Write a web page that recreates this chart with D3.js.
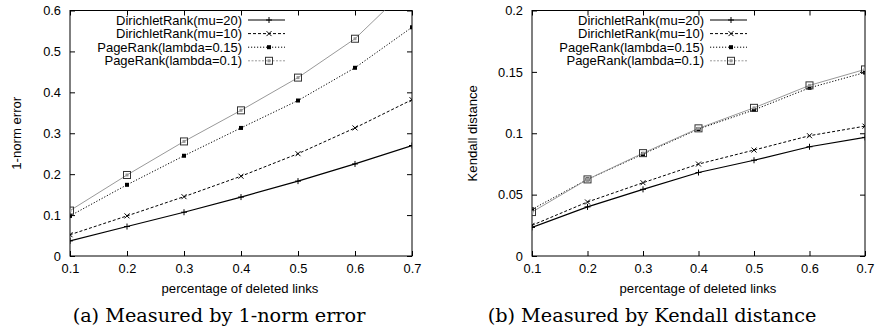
<!DOCTYPE html>
<html><head><meta charset="utf-8">
<script src="https://cdn.jsdelivr.net/npm/d3@7"></script>
<style>body{margin:0;background:#fff}svg{display:block}</style>
</head><body>
<svg id="c" width="875" height="330"></svg>
<script>
const xValues = [0.1, 0.2, 0.3, 0.4, 0.5, 0.6, 0.7];
const seriesNames = ["DirichletRank(mu=20)", "DirichletRank(mu=10)", "PageRank(lambda=0.15)", "PageRank(lambda=0.1)"];
// Panel (a) 1-norm error
const normMu20 = [0.037, 0.072, 0.107, 0.144, 0.183, 0.225, 0.270];
const normMu10 = [0.052, 0.098, 0.145, 0.195, 0.250, 0.313, 0.382];
const normPR015 = [0.098, 0.174, 0.245, 0.313, 0.380, 0.460, 0.559];
const normPR01 = [0.111, 0.198, 0.280, 0.356, 0.436, 0.531, 0.665];
// Panel (b) Kendall distance
const kenMu20 = [0.0233, 0.040, 0.0543, 0.068, 0.078, 0.089, 0.0966];
const kenMu10 = [0.025, 0.044, 0.0597, 0.0749, 0.0863, 0.098, 0.1058];
const kenPR015 = [0.038, 0.0624, 0.083, 0.1034, 0.119, 0.137, 0.1495];
const kenPR01 = [0.0358, 0.0624, 0.0838, 0.104, 0.1207, 0.139, 0.152];
const xTicks = [0.1, 0.2, 0.3, 0.4, 0.5, 0.6, 0.7];
const normTicks = [0, 0.1, 0.2, 0.3, 0.4, 0.5, 0.6];
const kenTicks = [0, 0.05, 0.1, 0.15, 0.2];

const styles = [
  {stroke:"#000", width:1.2, dash:null, marker:"plus"},
  {stroke:"#000", width:1, dash:"3,2", marker:"cross"},
  {stroke:"#000", width:1, dash:"1.2,1.8", marker:"fsquare"},
  {stroke:"#999", width:1, dash:null, marker:"osquare", legendDash:"2,1.5"}
];

const svg = d3.select("#c");
const font = "'Liberation Sans', Arial, Helvetica, sans-serif";
const serif = "'DejaVu Serif', 'Liberation Serif', serif";

function fitSize(str, family, target) {
  const t = svg.append("text").attr("font-family", family).attr("font-size", 100).text(str);
  const w = t.node().getComputedTextLength();
  t.remove();
  return 100 * target / w;
}
const legendSize = fitSize("DirichletRank(mu=20)", font, 126);
const tickSize = fitSize("0.15", font, 25);
const labelSize = fitSize("percentage of deleted links", font, 157);
const capSize = fitSize("(a) Measured by 1-norm error", serif, 293);

function marker(g, type, x, y, color) {
  if (type === "plus") {
    g.append("path").attr("d", `M${x-3},${y}H${x+3}M${x},${y-3}V${y+3}`).attr("stroke", color).attr("stroke-width", 1);
  } else if (type === "cross") {
    g.append("path").attr("d", `M${x-2.5},${y-2.5}L${x+2.5},${y+2.5}M${x-2.5},${y+2.5}L${x+2.5},${y-2.5}`).attr("stroke", color).attr("stroke-width", 1);
  } else if (type === "fsquare") {
    g.append("rect").attr("x", x-2).attr("y", y-2).attr("width", 4).attr("height", 4).attr("fill", "#000");
  } else {
    g.append("rect").attr("x", x-3.5).attr("y", y-3.5).attr("width", 7).attr("height", 7).attr("fill", "none").attr("stroke", "#333").attr("stroke-width", 1);
    g.append("rect").attr("x", x-1.5).attr("y", y-1.5).attr("width", 3).attr("height", 3).attr("fill", "#999");
  }
}

function panel(opt) {
  const {left, right, top, bottom, yMax, yTicks, yFmt, series, yLabel, yLabelX, legendX, caption, captionX, xLabelX, id} = opt;
  const x = d3.scaleLinear().domain([0.1, 0.7]).range([left, right]);
  const y = d3.scaleLinear().domain([0, yMax]).range([bottom, top]);
  const g = svg.append("g");
  g.append("clipPath").attr("id", id).append("rect").attr("x", left).attr("y", top).attr("width", right-left).attr("height", bottom-top);

  const axB = d3.axisBottom(x).tickValues(xTicks).tickSize(-5).tickPadding(8).tickFormat(d3.format(".1f"));
  const axT = d3.axisTop(x).tickValues(xTicks).tickSize(-5).tickFormat("");
  const axL = d3.axisLeft(y).tickValues(yTicks).tickSize(-5).tickPadding(9).tickFormat(yFmt);
  const axR = d3.axisRight(y).tickValues(yTicks).tickSize(-5).tickFormat("");
  [[axB, `translate(0,${bottom})`], [axT, `translate(0,${top})`], [axL, `translate(${left},0)`], [axR, `translate(${right},0)`]].forEach(([a, t]) => {
    const ag = g.append("g").attr("transform", t).call(a);
    ag.select(".domain").remove();
    ag.selectAll("line").attr("stroke", "#000");
    ag.selectAll("text").attr("font-family", font).attr("font-size", tickSize).attr("fill", "#000");
  });
  g.append("rect").attr("x", left).attr("y", top).attr("width", right-left).attr("height", bottom-top)
    .attr("fill", "none").attr("stroke", "#000").attr("stroke-width", 1);

  const line = d3.line().x((d, i) => x(xValues[i])).y(d => y(d));
  const dg = g.append("g").attr("clip-path", `url(#${id})`);
  series.forEach((vals, si) => {
    const s = styles[si];
    dg.append("path").datum(vals).attr("d", line).attr("fill", "none").attr("stroke", s.stroke)
      .attr("stroke-width", s.width).attr("stroke-dasharray", s.dash);
    vals.forEach((v, i) => { if (v <= yMax) marker(dg, s.marker, x(xValues[i]), y(v), s.stroke === "#999" ? "#333" : "#000"); });
  });

  const lg = g.append("g");
  seriesNames.forEach((name, i) => {
    const ly = top + 9.5 + i * 13.6;
    const s = styles[i];
    lg.append("text").attr("x", legendX).attr("y", ly + 4.5).attr("text-anchor", "end")
      .attr("font-family", font).attr("font-size", legendSize).text(name);
    lg.append("line").attr("x1", legendX + 6).attr("x2", legendX + 43).attr("y1", ly).attr("y2", ly)
      .attr("stroke", s.stroke).attr("stroke-width", s.width).attr("stroke-dasharray", s.legendDash || s.dash);
    marker(lg, s.marker, legendX + 27, ly, s.stroke === "#999" ? "#333" : "#000");
  });

  g.append("text").attr("x", xLabelX).attr("y", bottom + 37).attr("text-anchor", "middle")
    .attr("font-family", font).attr("font-size", labelSize).text("percentage of deleted links");
  g.append("text").attr("transform", `translate(${yLabelX},${(top + bottom) / 2}) rotate(-90)`)
    .attr("text-anchor", "middle").attr("font-family", font).attr("font-size", labelSize).text(yLabel);
  g.append("text").attr("x", captionX).attr("y", 322).attr("text-anchor", "middle")
    .attr("font-family", serif).attr("font-size", capSize).text(caption);
}

panel({left:70, right:412, top:10.5, bottom:256, yMax:0.6, yTicks:normTicks,
  yFmt:d => d === 0 ? "0" : d3.format(".1f")(d), series:[normMu20, normMu10, normPR015, normPR01],
  yLabel:"1-norm error", yLabelX:21, legendX:242, caption:"(a) Measured by 1-norm error", captionX:219, xLabelX:240, id:"clipA"});
panel({left:532, right:865, top:10.5, bottom:256, yMax:0.2, yTicks:kenTicks,
  yFmt:d => d === 0 ? "0" : String(+d.toFixed(2)), series:[kenMu20, kenMu10, kenPR015, kenPR01],
  yLabel:"Kendall distance", yLabelX:477, legendX:704, caption:"(b) Measured by Kendall distance", captionX:652, xLabelX:698, id:"clipB"});
</script>
</body></html>
